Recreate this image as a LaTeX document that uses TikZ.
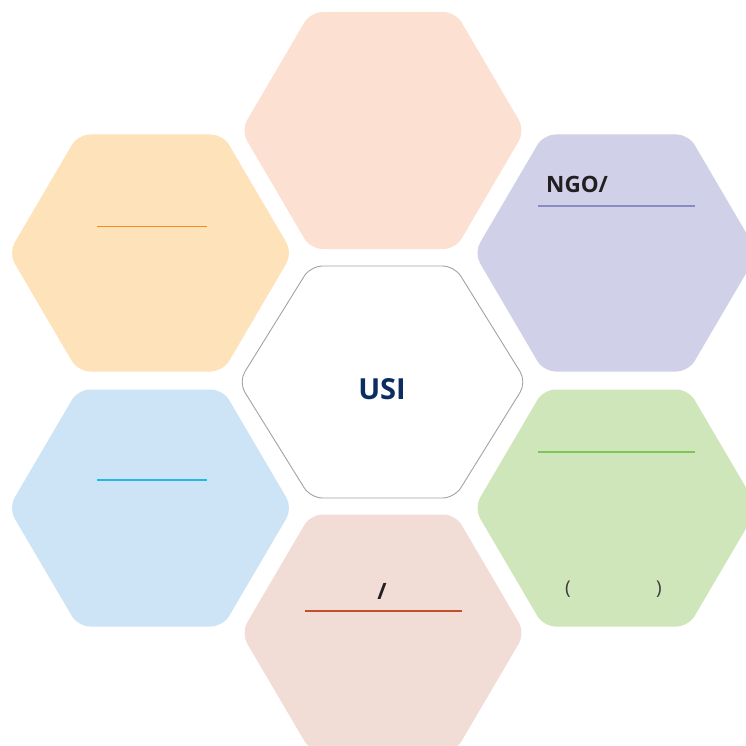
\documentclass[tikz,border=0pt]{standalone}
\usepackage{fontspec}
\setmainfont{Open Sans}

\definecolor{hexPeach}{HTML}{FCE0D1}
\definecolor{hexOrange}{HTML}{FEE2BA}
\definecolor{hexLilac}{HTML}{D0D0E8}
\definecolor{hexSky}{HTML}{CCE4F6}
\definecolor{hexMint}{HTML}{CFE5BA}
\definecolor{hexRose}{HTML}{F1DDD6}
\definecolor{hexEdge}{HTML}{A3A3A3}
\definecolor{usiBlue}{HTML}{0B2D60}
\definecolor{txtDark}{HTML}{231F20}
\definecolor{txtGray}{HTML}{3C3C3C}
\definecolor{rulOrange}{HTML}{F68B1F}
\definecolor{rulSky}{HTML}{29B3E6}
\definecolor{rulLilac}{HTML}{8A8AC6}
\definecolor{rulMint}{HTML}{7CC757}
\definecolor{rulRose}{HTML}{C1502E}

\begin{document}
\begin{tikzpicture}[
    x=1pt, y=-1pt,
    hexa/.style={rounded corners=12pt},
    rul/.style={line width=1.1pt},
    ttl/.style={font=\fontsize{22.5}{27}\selectfont\bfseries, text=txtDark,
                inner sep=0pt},
    par/.style={font=\fontsize{19}{22}\selectfont, text=txtGray, inner sep=0pt},
]
\useasboundingbox (0,0) rectangle (745,746);

% Hexagon centres
\coordinate (top) at (383,130.5);
\coordinate (ul)  at (150.5,253);
\coordinate (ur)  at (616,253);
\coordinate (ll)  at (150.5,508);
\coordinate (lr)  at (616,508);
\coordinate (bot) at (383,633);
\coordinate (ctr) at (382.5,382);

% Outer hexagons
\foreach \pos/\col in {top/hexPeach, ul/hexOrange, ur/hexLilac,
                       ll/hexSky, lr/hexMint, bot/hexRose}
  \fill[hexa, \col, shift={(\pos)}]
    (-142,0) -- (-72.5,-118.5) -- (72.5,-118.5) -- (142,0)
    -- (72.5,118.5) -- (-72.5,118.5) -- cycle;

% Centre hexagon
\draw[hexa, draw=hexEdge, line width=0.9pt, fill=white, shift={(ctr)}]
  (-144,0) -- (-72,-116) -- (72,-116) -- (144,0)
  -- (72,116) -- (-72,116) -- cycle;
\node[font=\fontsize{29}{34}\selectfont\bfseries, text=usiBlue,
      inner sep=0pt] (usi) at (382,389.5) {USI};

% Titles and rules
\draw[rul, rulOrange] (97,226.5) -- (207,226.5);
\draw[rul, rulSky]    (97,480)   -- (207,480);

\node[ttl, anchor=base west] (ngo) at (546,193) {NGO/};
\draw[rul, rulLilac] (538,206) -- (695,206);

\draw[rul, rulMint] (538,452) -- (695,452);
\node[par] (lpar) at (568,589) {(};
\node[par] (rpar) at (659,589) {)};

\node[ttl] (slash) at (382,591) {/};
\draw[rul, rulRose] (305,611) -- (462,611);

\end{tikzpicture}
\end{document}
